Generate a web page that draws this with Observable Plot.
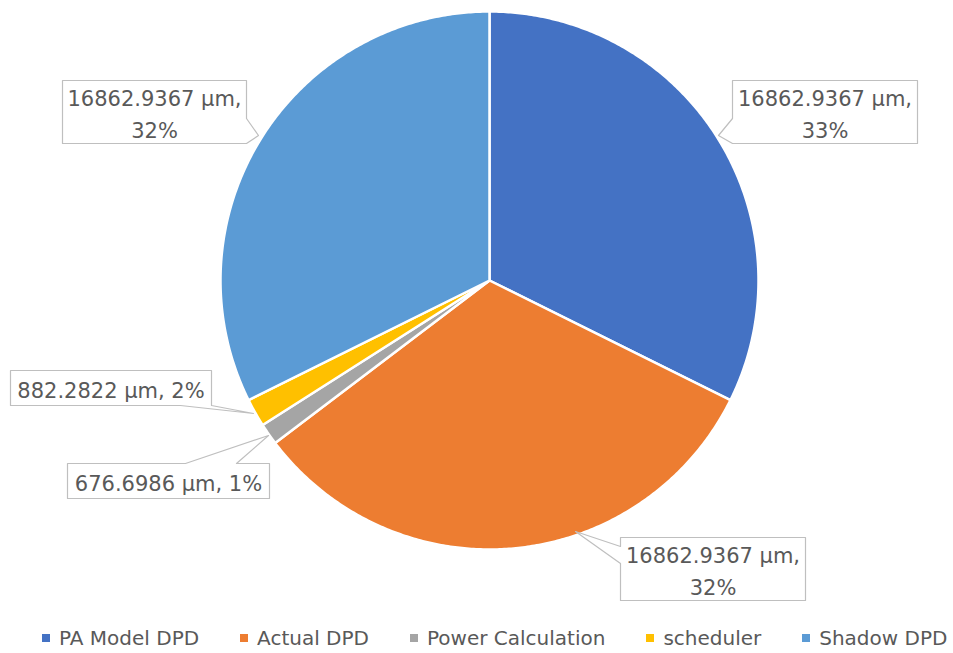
<!DOCTYPE html>
<html>
<head>
<meta charset="utf-8">
<script src="https://cdn.jsdelivr.net/npm/d3@7"></script>
<script src="https://cdn.jsdelivr.net/npm/@observablehq/plot@0.6"></script>
<style>
  body { margin: 0; background: #fff; width: 953px; height: 653px; overflow: hidden; }
  #legend { display: flex; justify-content: flex-start; align-items: center; gap: 41px; height: 43px;
    margin-top: 6px;
    font-family: "DejaVu Sans", sans-serif; font-size: 20px; color: #595959; padding-left: 42px; box-sizing: border-box; width: 953px; }
  #legend .item { display: flex; align-items: center; white-space: nowrap; }
  #legend .sw { width: 8px; height: 8px; margin-right: 9px; display: inline-block; }
</style>
</head>
<body>
<div id="chart"></div>
<div id="legend"></div>
<script>
// ---- data ----
const names = ["PA Model DPD", "Actual DPD", "Power Calculation", "scheduler", "Shadow DPD"];
const values = [16862.9367, 16862.9367, 676.6986, 882.2822, 16862.9367];
const pctLabels = ["33%", "32%", "1%", "2%", "32%"];
const colors = ["#4472C4", "#ED7D31", "#A5A5A5", "#FFC000", "#5B9BD5"];
const twoLine = [true, true, false, false, true];

// ---- layout (pixels) ----
const CX = 489, CY = 280, R = 269;
const ux = px => (px - CX) / R;
const uy = py => (CY - py) / R;

// callout outlines per slice (pixel layout of the label boxes)
const callouts = [
  {i: 0, center: [824.5, 111.5], pts: [[732,80],[917,80],[917,143],[732,143],[718,135],[732,118],[732,80]]},
  {i: 1, center: [712.5, 568.5], pts: [[620,537],[805,537],[805,600],[620,600],[620,563],[575,531],[620,546],[620,537]]},
  {i: 2, center: [168, 480.5], pts: [[67,463],[185,463],[268,435],[236,463],[269,463],[269,498],[67,498],[67,463]]},
  {i: 3, center: [110.5, 387.5], pts: [[10,370],[211,370],[211,405],[253,413],[180,405],[10,405],[10,370]]},
  {i: 4, center: [154, 111.5], pts: [[62,80],[246,80],[246,118],[258,135],[246,143],[62,143],[62,80]]}
];

// ---- slices from data ----
const arcs = d3.pie().sort(null).value(d => d)(values);
const slicePts = [];
arcs.forEach((a, i) => {
  slicePts.push({name: names[i], x: 0, y: 0});
  const n = Math.max(4, Math.ceil((a.endAngle - a.startAngle) / (Math.PI / 360)));
  for (let k = 0; k <= n; k++) {
    const t = a.startAngle + (a.endAngle - a.startAngle) * k / n;
    slicePts.push({name: names[i], x: Math.sin(t), y: Math.cos(t)});
  }
  slicePts.push({name: names[i], x: 0, y: 0});
});

const calloutPts = [];
callouts.forEach(c => c.pts.forEach(p => calloutPts.push({id: c.i, x: ux(p[0]), y: uy(p[1])})));

const labelData = callouts.map(c => ({
  x: ux(c.center[0]), y: uy(c.center[1]),
  text: twoLine[c.i] ? `${values[c.i]} µm,\n${pctLabels[c.i]}` : `${values[c.i]} µm, ${pctLabels[c.i]}`
}));

const chart = Plot.plot({
  width: 953, height: 610, margin: 0,
  style: {background: "#fff", overflow: "visible"},
  x: {domain: [-1, 1], range: [CX - R, CX + R], axis: null},
  y: {domain: [-1, 1], range: [CY + R, CY - R], axis: null},
  color: {domain: names, range: colors},
  marks: [
    Plot.line(slicePts, {x: "x", y: "y", z: "name", fill: "name", stroke: "white", strokeWidth: 2.5, strokeLinejoin: "round"}),
    Plot.line(calloutPts, {x: "x", y: "y", z: "id", fill: "white", stroke: "#bfbfbf", strokeWidth: 1.2}),
    Plot.text(labelData, {x: "x", y: "y", text: "text", fill: "#595959", fontSize: 21, lineHeight: 1.52,
      fontFamily: "DejaVu Sans", textAnchor: "middle", lineAnchor: "middle"})
  ]
});
document.getElementById("chart").appendChild(chart);

const legend = document.getElementById("legend");
names.forEach((n, i) => {
  const item = document.createElement("div");
  item.className = "item";
  const sw = document.createElement("span");
  sw.className = "sw";
  sw.style.background = colors[i];
  item.appendChild(sw);
  item.appendChild(document.createTextNode(n));
  legend.appendChild(item);
});
</script>
</body>
</html>
